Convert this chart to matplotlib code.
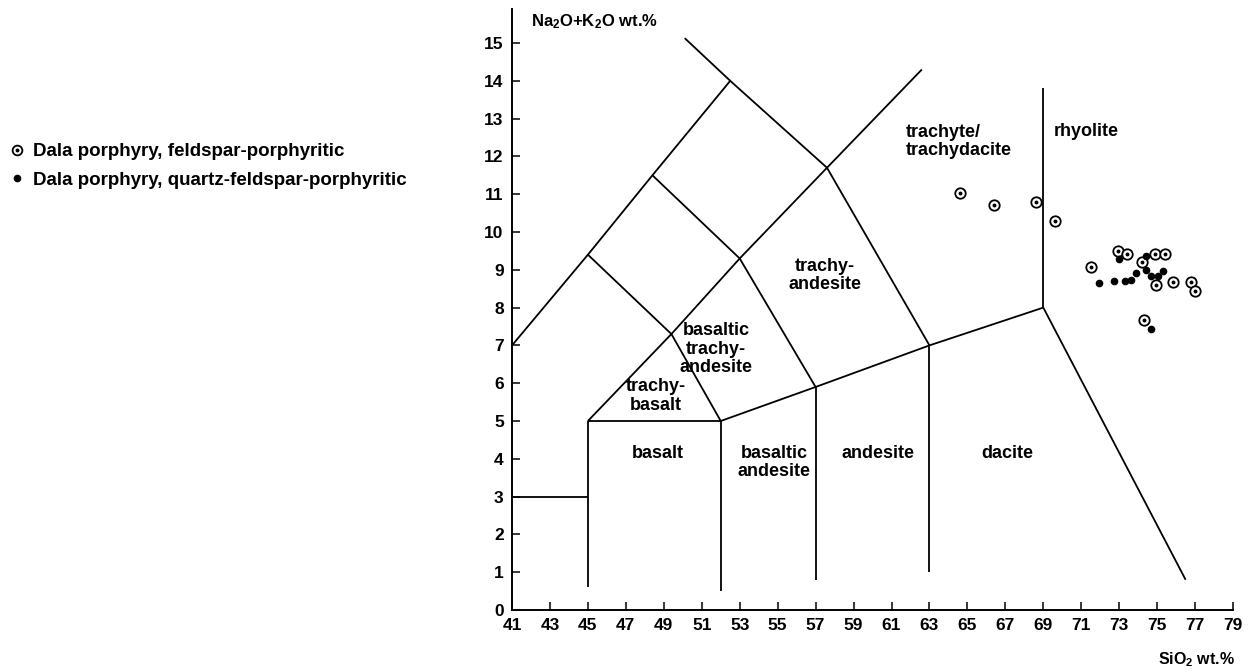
import matplotlib
matplotlib.use("Agg")
import matplotlib.pyplot as plt
from matplotlib.lines import Line2D
from matplotlib.legend_handler import HandlerTuple

plt.rcParams['font.family'] = ['Liberation Sans', 'DejaVu Sans']
plt.rcParams['font.weight'] = 'bold'
plt.rcParams['mathtext.fontset'] = 'custom'
plt.rcParams['mathtext.rm'] = 'Liberation Sans:bold'
plt.rcParams['mathtext.bf'] = 'Liberation Sans:bold'
plt.rcParams['mathtext.default'] = 'rm'

# feldspar-porphyritic samples (open circle with dot)
fsp_sio2 = [64.6, 66.4, 68.6, 69.6, 71.5, 72.95, 73.4, 74.2, 74.9, 75.4, 75.85, 74.95, 76.8, 77.0, 74.3]
fsp_alk = [11.03, 10.71, 10.79, 10.29, 9.07, 9.5, 9.42, 9.2, 9.42, 9.42, 8.68, 8.6, 8.68, 8.44, 7.67]

# quartz-feldspar-porphyritic samples (filled dot)
qfp_sio2 = [73.0, 74.4, 71.94, 72.7, 73.3, 73.6, 73.9, 74.4, 74.7, 75.05, 75.3, 74.7]
qfp_alk = [9.29, 9.37, 8.65, 8.70, 8.70, 8.73, 8.92, 9.0, 8.84, 8.84, 8.97, 7.43]

# TAS field boundaries (SiO2 list, total alkali list)
boundaries = [
    ([41, 45], [3, 3]),
    ([45, 45], [0.6, 5]),
    ([45, 52], [5, 5]),
    ([52, 52], [0.5, 5]),
    ([57, 57], [0.8, 5.9]),
    ([63, 63], [1.0, 7]),
    ([69, 69], [8, 13.8]),
    ([52, 57, 63, 69], [5, 5.9, 7, 8]),
    ([69, 76.5], [8, 0.8]),
    ([45, 49.4, 53, 57.6, 62.6], [5, 7.3, 9.3, 11.7, 14.3]),
    ([41, 45, 48.4, 52.5, 57.6, 63], [7, 9.4, 11.5, 14, 11.7, 7]),
    ([52.5, 50.1], [14, 15.13]),
    ([45, 49.4], [9.4, 7.3]),
    ([48.4, 53], [11.5, 9.3]),
    ([53, 57], [9.3, 5.9]),
    ([49.4, 52], [7.3, 5]),
]

field_names = ["basalt", "basaltic\nandesite", "andesite", "dacite", "trachy-\nbasalt",
               "basaltic\ntrachy-\nandesite", "trachy-\nandesite"]
field_x = [48.7, 54.8, 60.3, 67.1, 48.6, 51.75, 57.5]
field_y = [4.15, 3.9, 4.15, 4.15, 5.66, 6.9, 8.85]

fig = plt.figure(figsize=(12.54, 6.72), dpi=100)
ax = fig.add_axes([0.4083, 0.0923, 0.575, 0.8943])

for xs, ys in boundaries:
    ax.plot(xs, ys, color='black', lw=1.3, solid_capstyle='butt')

for name, fx, fy in zip(field_names, field_x, field_y):
    ax.text(fx, fy, name, ha='center', va='center', fontsize=13, linespacing=1.1)
ax.text(61.77, 12.4, "trachyte/\ntrachydacite", ha='left', va='center', fontsize=13, linespacing=1.1)
ax.text(71.26, 12.67, "rhyolite", ha='center', va='center', fontsize=13)

ax.plot(fsp_sio2, fsp_alk, 'o', ms=7.5, mfc='white', mec='black', mew=1.3)
ax.plot(fsp_sio2, fsp_alk, 'o', ms=1.8, color='black')
ax.plot(qfp_sio2, qfp_alk, 'o', ms=4.5, color='black')

ax.set_xlim(41, 79)
ax.set_ylim(0, 15.9)
ax.set_xticks(range(41, 80, 2))
ax.set_yticks(range(0, 16))
ax.spines['top'].set_visible(False)
ax.spines['right'].set_visible(False)
ax.spines['left'].set_linewidth(1.4)
ax.spines['bottom'].set_linewidth(1.4)
ax.tick_params(direction='in', length=6, width=1.1, labelsize=12.5, pad=6)

ax.text(0.026, 0.995, "Na$_2$O+K$_2$O wt.%", transform=ax.transAxes, ha='left', va='top',
        fontsize=12)
fig.text(0.985, 0.004, "SiO$_2$ wt.%", ha='right', va='bottom', fontsize=11.5)

h_fsp = (Line2D([], [], ls='none', marker='o', ms=7, mfc='white', mec='black', mew=1.3),
         Line2D([], [], ls='none', marker='o', ms=1.8, color='black'))
h_qfp = Line2D([], [], ls='none', marker='o', ms=4.5, color='black')
fig.legend([h_fsp, h_qfp],
           ["Dala porphyry, feldspar-porphyritic", "Dala porphyry, quartz-feldspar-porphyritic"],
           handler_map={tuple: HandlerTuple(ndivide=1, pad=0)},
           loc='center left', bbox_to_anchor=(-0.006, 0.753), frameon=False,
           fontsize=13.5, handlelength=0.8, handletextpad=0.45, labelspacing=0.62)

fig.savefig("out.png", dpi=100)
